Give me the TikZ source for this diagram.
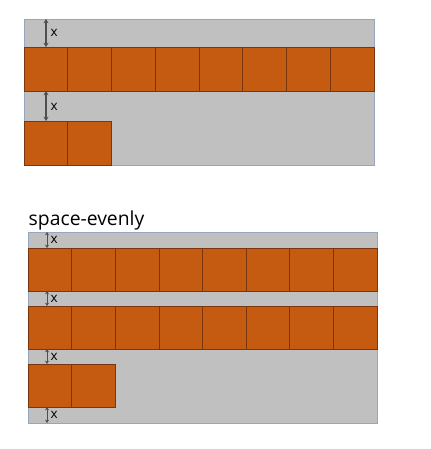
\documentclass[tikz,border=0pt]{standalone}
\usepackage{fontspec}
\setmainfont{Open Sans}
\usetikzlibrary{arrows.meta}
\definecolor{cellFill}{HTML}{C55A11}
\definecolor{cellEdge}{HTML}{7A360C}
\definecolor{boxFill}{HTML}{C0C0C0}
\definecolor{boxEdge}{HTML}{97A6BC}
\definecolor{arr}{HTML}{4F4F4F}
\tikzset{
  box/.style={draw=boxEdge, fill=boxFill, line width=0.6pt},
  cell/.style={draw=cellEdge, fill=cellFill, line width=0.6pt},
  gap/.style={draw=arr, line width=1pt, {Stealth[length=3.6pt,width=4.2pt]}-{Stealth[length=3.6pt,width=4.2pt]}},
  gapsm/.style={gap, line width=0.8pt, {Stealth[length=2.8pt,width=3.4pt]}-{Stealth[length=2.8pt,width=3.4pt]}},
  lbl/.style={font=\fontsize{11.5}{13}\selectfont, anchor=west, inner sep=0pt},
  ttl/.style={font=\fontsize{16.5}{19}\selectfont, anchor=base west, inner sep=0pt},
}
% one unit = one pixel of the sketch, y runs downwards
\def\wA{43.75}
\def\wB{43.625}

\begin{document}
\begin{tikzpicture}[x=0.03cm, y=-0.03cm]
\useasboundingbox (0,0) rectangle (431,449);

% ── top panel ────────────────────────────────────────────────────────────────
\draw[box] (24,19) rectangle (374,165);
\foreach \i in {0,...,7}
  \draw[cell] ({24+\i*\wA},47) rectangle ++(\wA,44);
\foreach \i in {0,1}
  \draw[cell] ({24+\i*\wA},121) rectangle ++(\wA,44);

% gaps
\coordinate (tA1) at (46,19);  \coordinate (bA1) at (46,47);
\coordinate (tA2) at (46,91);  \coordinate (bA2) at (46,121);
\draw[gap] (tA1) -- (bA1);
\draw[gap] (tA2) -- (bA2);
\node[lbl] (xA1) at (50.5,33) {x};
\node[lbl] (xA2) at (50.5,107) {x};

% ── bottom panel: space-evenly ───────────────────────────────────────────────
\node[ttl] (title) at (28.5,225) {space-evenly};
\draw[box] (28,232) rectangle (377,423);
\foreach \y in {248,306}
  \foreach \i in {0,...,7}
    \draw[cell] ({28+\i*\wB},\y) rectangle ++(\wB,43);
\foreach \i in {0,1}
  \draw[cell] ({28+\i*\wB},364) rectangle ++(\wB,43);

% gaps
\coordinate (tB1) at (47,232); \coordinate (bB1) at (47,248);
\coordinate (tB2) at (47,291); \coordinate (bB2) at (47,306);
\coordinate (tB3) at (47,349); \coordinate (bB3) at (47,364);
\coordinate (tB4) at (47,407); \coordinate (bB4) at (47,423);
\foreach \k in {1,...,4}
  \draw[gapsm] (tB\k) -- (bB\k);
\node[lbl] (xB1) at (50.5,240) {x};
\node[lbl] (xB2) at (50.5,298.5) {x};
\node[lbl] (xB3) at (50.5,356.5) {x};
\node[lbl] (xB4) at (50.5,415) {x};

\end{tikzpicture}
\end{document}
